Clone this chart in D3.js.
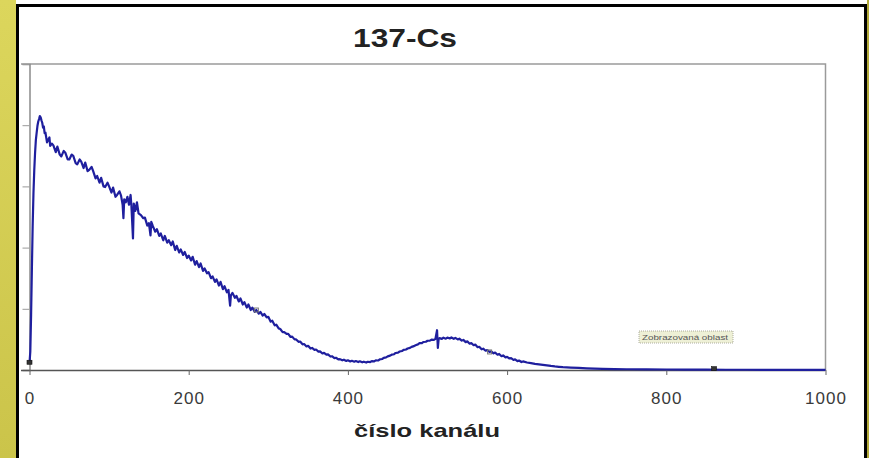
<!DOCTYPE html>
<html>
<head>
<meta charset="utf-8">
<script src="https://cdnjs.cloudflare.com/ajax/libs/d3/7.8.5/d3.min.js"></script>
<style>
  body { margin: 0; background: #fff; }
  text { font-family: Arial, "Liberation Sans", sans-serif; }
</style>
</head>
<body>
<svg width="869" height="458"></svg>
<script>
// spectrum of 137-Cs, [channel, counts]
var risePoints = [[0,110],[1,300],[2,900],[3,1650],[4,2370],[5,2900],[6,3270],[7,3550],[8,3760],[9,3880],[10,3990],[11,4060],[12,4100],[13,4150],[14,4130],[15,4080],[16,4040],[17,3960],[18,3980],[19,3870],[20,3880]];
var comptonPoints = [[22,3720],[25,3800],[26,3660],[28,3700],[30,3670],[33,3560],[35,3650],[38,3520],[40,3490],[43,3580],[45,3550],[48,3440],[50,3440],[53,3520],[55,3500],[58,3380],[60,3360],[63,3440],[65,3405],[68,3300],[70,3390],[73,3250],[75,3270],[78,3320],[80,3250],[83,3130],[85,3170],[88,3060],[90,3140],[93,3000],[95,2990],[98,3060],[100,3000],[103,2900],[105,2980],[108,2830],[110,2860],[113,2920],[115,2850],[117,2700],[118,2480],[119,2790],[121,2740],[123,2830],[125,2700],[127,2860],[128,2690],[130,2150],[131,2720],[133,2600],[135,2740],[137,2560],[140,2530],[143,2480],[145,2490],[148,2360],[150,2400],[152,2200],[153,2420],[155,2350],[158,2260],[160,2300],[163,2190],[165,2230],[168,2120],[170,2190],[173,2080],[175,2120],[178,2040],[180,2100],[183,1960],[185,2030],[188,1920],[190,1970],[193,1880],[195,1930],[198,1830],[200,1870],[203,1790],[205,1850],[208,1720],[210,1780],[213,1680],[215,1740],[218,1620],[220,1660],[223,1580],[225,1600],[228,1500],[230,1530],[233,1440],[235,1480],[238,1380],[240,1440],[243,1320],[245,1370],[248,1270],[250,1310],[252,1050],[253,1220],[255,1260],[258,1180],[260,1210],[263,1120],[265,1170],[268,1070],[270,1110],[273,1020],[275,1070],[278,980],[280,1020],[283,950],[285,980],[288,920],[290,950],[293,890],[295,915],[298,860],[300,870]];
var valleyPoints = [[303,790],[305,805],[308,730],[310,740],[313,680],[315,670],[318,620],[320,620],[323,590],[325,590],[328,540],[330,545],[333,500],[335,500],[338,460],[340,465],[343,420],[345,425],[348,385],[350,395],[353,350],[355,360],[358,330],[360,335],[363,300],[365,305],[368,270],[370,280],[373,250],[375,255],[378,220],[380,225],[383,195],[385,200],[388,172],[390,178],[393,158],[395,168],[398,148],[400,158],[403,140],[405,150],[408,135],[410,146],[413,130],[415,142],[418,125],[420,136],[423,122],[425,135],[428,130],[430,145],[433,140],[435,158],[438,155],[440,175],[443,180],[445,198],[448,205],[450,222]];
var peakPoints = [[453,235],[455,250],[458,258],[460,278],[463,285],[465,302],[468,310],[470,328],[473,335],[475,352],[478,362],[480,378],[483,390],[485,405],[488,418],[490,438],[493,440],[495,458],[498,462],[500,478],[503,480],[505,495],[508,492],[510,510],[512,650],[513,360],[514,505],[515,520],[518,508],[520,528],[523,512],[525,530],[528,515],[530,532],[533,510],[535,525],[538,500],[540,512],[543,480],[545,492],[548,455],[550,468],[553,430],[555,440],[558,405],[560,415],[563,372],[565,380],[568,338],[570,348],[573,315],[575,325],[578,295],[580,305],[583,272],[585,285],[588,250],[590,262],[593,225],[595,238],[598,205],[600,215],[603,188],[605,195],[608,165],[610,175],[613,145],[615,155],[618,130],[620,140]];
var tailPoints = [[625,122],[630,112],[635,100],[640,92],[645,84],[650,76],[655,66],[660,58],[665,52],[670,47],[680,40],[690,34],[700,28],[710,22],[720,18],[735,15],[750,12],[775,10],[800,8],[825,6],[850,5],[875,4],[900,4],[925,3],[950,3],[975,2],[1000,2]];

var xTicks = [0, 200, 400, 600, 800, 1000];
var yTicks = [0, 1000, 2000, 3000, 4000, 5000];
var selectionMarks = [0, 860];   // dark handles of the selection
var pointMarks = [285, 578];     // small grey markers on the curve
var title = "137-Cs";
var xLabel = "číslo kanálu";
var boxLabel = "Zobrazovaná oblast";

var spectrum = risePoints.concat(comptonPoints, valleyPoints, peakPoints, tailPoints);

var svg = d3.select("svg");

// frame: yellow band and black border
var defs = svg.append("defs");
var grad = defs.append("linearGradient").attr("id", "band")
    .attr("x1", 0).attr("y1", 0).attr("x2", 0).attr("y2", 1);
grad.append("stop").attr("offset", "0%").attr("stop-color", "#dcd65c");
grad.append("stop").attr("offset", "100%").attr("stop-color", "#cbc44a");
svg.append("rect").attr("x", 0).attr("y", 0).attr("width", 16).attr("height", 458).attr("fill", "url(#band)");
svg.append("rect").attr("x", 867).attr("y", 0).attr("width", 2).attr("height", 458).attr("fill", "#b3aa3a");
svg.append("path").attr("d", "M17.5,458V5.5H865.5V458")
    .attr("fill", "none").attr("stroke", "#000").attr("stroke-width", 3);

// scales
var x = d3.scaleLinear().domain([0, 1000]).range([29.5, 825.5]);
var y = d3.scaleLinear().domain([0, 5000]).range([370, 64]);

// plot area border (top and right)
svg.append("path").attr("d", "M21," + y(5000) + "H" + x(1000) + "V" + y(0))
    .attr("fill", "none").attr("stroke", "#9a9a9a").attr("stroke-width", 1.5);

// y axis, no labels
var yAxis = svg.append("g").attr("transform", "translate(" + x(0) + ",0)")
    .call(d3.axisLeft(y).tickValues(yTicks).tickSize(7).tickFormat(""));
yAxis.select(".domain").attr("stroke", "#8a8a8a").attr("stroke-width", 1.5);
yAxis.selectAll(".tick line").attr("stroke", "#9a9a9a");

// x axis
var xAxis = svg.append("g").attr("transform", "translate(0," + y(0) + ")")
    .call(d3.axisBottom(x).tickValues(xTicks).tickFormat(d3.format("d"))
      .tickSize(5).tickPadding(17).tickSizeOuter(0));
xAxis.select(".domain").attr("d", "M21,0.5H" + x(1000)).attr("stroke", "#555").attr("stroke-width", 1.3);
xAxis.selectAll(".tick line").attr("stroke", "#666");
xAxis.selectAll(".tick text")
    .attr("font-size", "17px").attr("fill", "#3a3a3a").attr("letter-spacing", "1px")
    .attr("font-family", "Arial, 'Liberation Sans', sans-serif");

// the spectrum line
var line = d3.line().x(function(d) { return x(d[0]); }).y(function(d) { return y(d[1]); });
svg.append("path").datum(spectrum)
    .attr("d", line)
    .attr("fill", "none")
    .attr("stroke", "#1f1f9e")
    .attr("stroke-width", 2.2)
    .attr("stroke-linejoin", "round");

function countAt(ch) {
  var best = spectrum[0];
  spectrum.forEach(function(p) { if (Math.abs(p[0] - ch) < Math.abs(best[0] - ch)) best = p; });
  return best[1];
}

// grey markers on the curve
svg.selectAll("rect.pm").data(pointMarks).enter().append("rect")
    .attr("class", "pm")
    .attr("x", function(d) { return x(d) - 2; })
    .attr("y", function(d) { return y(countAt(d)) - 2; })
    .attr("width", 4).attr("height", 4)
    .attr("fill", "none").attr("stroke", "#777").attr("stroke-width", 1);

// selection handles
svg.selectAll("rect.sm").data(selectionMarks).enter().append("rect")
    .attr("class", "sm")
    .attr("x", function(d) { return x(d) - 2.5; })
    .attr("y", function(d) { return y(countAt(d)) - 3; })
    .attr("width", 5).attr("height", 4)
    .attr("fill", "#333").attr("stroke", "#111").attr("stroke-width", 0.6);

// small label box
svg.append("rect").attr("x", 639).attr("y", 331).attr("width", 94).attr("height", 12)
    .attr("fill", "#eef0d6").attr("stroke", "#9a9a8a").attr("stroke-width", 0.8)
    .attr("stroke-dasharray", "1,1");
svg.append("text").attr("x", 642).attr("y", 340)
    .attr("font-size", "6.5px").attr("fill", "#555")
    .attr("textLength", 86).attr("lengthAdjust", "spacingAndGlyphs")
    .text(boxLabel);

// title and axis title
svg.append("text").attr("x", 405).attr("y", 47)
    .attr("text-anchor", "middle")
    .attr("font-size", "25px").attr("font-weight", "bold").attr("fill", "#222")
    .attr("textLength", 104).attr("lengthAdjust", "spacingAndGlyphs")
    .text(title);
svg.append("text").attr("x", 427).attr("y", 437)
    .attr("text-anchor", "middle")
    .attr("font-size", "19px").attr("font-weight", "bold").attr("fill", "#222")
    .attr("textLength", 146).attr("lengthAdjust", "spacingAndGlyphs")
    .text(xLabel);
</script>
</body>
</html>
